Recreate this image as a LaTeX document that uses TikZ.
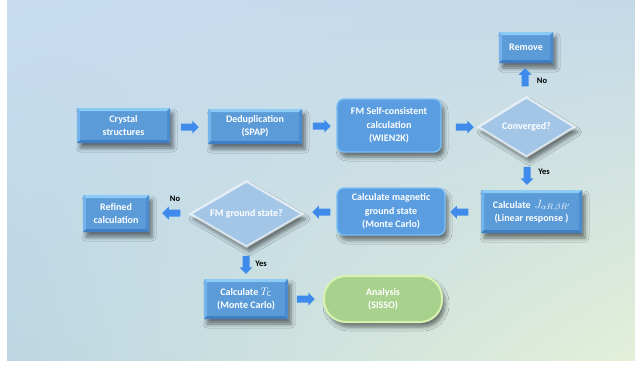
\documentclass[tikz,border=0pt]{standalone}
\usepackage{fontspec}
\setmainfont{Carlito}
\usetikzlibrary{shapes.geometric,shapes.arrows,shadows.blur,shadings,calc}
\definecolor{bgA}{HTML}{C7DCF0}
\definecolor{bgB}{HTML}{C3D9E8}
\definecolor{bgC}{HTML}{BCD7E3}
\definecolor{bgD}{HTML}{E3EFD8}
\definecolor{boxblue}{HTML}{5B9BD8}
\definecolor{bevtop}{HTML}{8DCBF7}
\definecolor{bevleft}{HTML}{74B3EC}
\definecolor{bevbot}{HTML}{3F7EC2}
\definecolor{bevright}{HTML}{4A8CCF}
\definecolor{roundfill}{HTML}{5A9DE0}
\definecolor{roundedge}{HTML}{7CC2F6}
\definecolor{diafill}{HTML}{A3C6E7}
\definecolor{greenfill}{HTML}{A9D18E}
\definecolor{greenedge}{HTML}{D8F3B0}
\definecolor{arrowblue}{HTML}{3F8BEC}
\tikzset{
  shad/.style={blur shadow={shadow xshift=3pt, shadow yshift=-5pt, shadow blur radius=4pt, shadow opacity=50}},
  txt/.style={text=white, font=\bfseries\fontsize{10}{13.3}\selectfont, align=center, inner sep=1pt},
  bevelbox/.style={txt, rectangle, fill=boxblue, shad,
    path picture={
      \fill[bevtop] (path picture bounding box.north west) -- (path picture bounding box.north east)
        -- ([xshift=-3pt,yshift=-3pt]path picture bounding box.north east)
        -- ([xshift=3pt,yshift=-3pt]path picture bounding box.north west) -- cycle;
      \fill[bevleft] (path picture bounding box.north west) -- ([xshift=3pt,yshift=-3pt]path picture bounding box.north west)
        -- ([xshift=3pt,yshift=3pt]path picture bounding box.south west) -- (path picture bounding box.south west) -- cycle;
      \fill[bevbot] (path picture bounding box.south west) -- (path picture bounding box.south east)
        -- ([xshift=-3pt,yshift=3pt]path picture bounding box.south east)
        -- ([xshift=3pt,yshift=3pt]path picture bounding box.south west) -- cycle;
      \fill[bevright] (path picture bounding box.north east) -- ([xshift=-3pt,yshift=-3pt]path picture bounding box.north east)
        -- ([xshift=-3pt,yshift=3pt]path picture bounding box.south east) -- (path picture bounding box.south east) -- cycle;
    }},
  roundbox/.style={txt, rectangle, rounded corners=7pt, fill=roundfill, draw=roundedge, line width=1.3pt, shad},
  decision/.style={txt, diamond, fill=diafill, draw=white, draw opacity=0.65, line width=2.2pt, shad},
  endbox/.style={txt, rectangle, rounded corners=22pt, fill=greenfill, draw=greenedge, line width=2pt, shad},
  blockarrow/.style={single arrow, inner sep=3.3pt, minimum height=18pt,
    single arrow head extend=3pt, shape border rotate=#1, fill=arrowblue, draw=none},
  lab/.style={font=\bfseries\fontsize{8.5}{10}\selectfont, text=black, inner sep=0pt}
}
\begin{document}
\begin{tikzpicture}[x=1pt,y=-1pt]
\useasboundingbox (0,0) rectangle (635,365);
\fill[white] (0,0) rectangle (635,365);
\shade[upper left=bgA, upper right=bgB, lower left=bgC, lower right=bgD] (7,0) rectangle (635,360);

% nodes
\node[bevelbox, minimum width=93pt, minimum height=35pt] (crys) at (123.5,125.5) {Crystal\\structures};
\node[bevelbox, minimum width=94pt, minimum height=35pt] (dedup) at (255,126.5) {Deduplication\\(SPAP)};
\node[roundbox, minimum width=104pt, minimum height=53pt] (fm) at (389,125.5) {FM Self-consistent\\calculation\\(WIEN2K)};
\node[decision, minimum width=97pt, minimum height=60pt, aspect=1.6] (conv) at (526.5,127) {Converged?};
\node[bevelbox, minimum width=54pt, minimum height=31pt] (remove) at (526,47.5) {Remove};
\node[bevelbox, minimum width=101pt, minimum height=43pt] (calcj) at (531.5,211.5) {Calculate \,{\fontsize{11.5}{13.3}\selectfont$J_{\alpha R,\beta R'}$}\\(Linear response )};
\node[roundbox, minimum width=108pt, minimum height=47pt] (mag) at (391,211.5) {Calculate magnetic\\ground state\\(Monte Carlo)};
\node[decision, minimum width=113pt, minimum height=66pt, aspect=1.7] (fmgs) at (246.5,214) {FM ground state?};
\node[bevelbox, minimum width=66pt, minimum height=37pt] (refined) at (116,213.5) {Refined\\calculation};
\node[bevelbox, minimum width=84pt, minimum height=40pt] (tc) at (246,299) {Calculate {\fontsize{11}{13.3}\selectfont$T_{\mathrm{C}}$}\\(Monte Carlo)};
\node[endbox, minimum width=118pt, minimum height=46pt] (ana) at (383,299) {Analysis\\(SISSO)};

% block arrows
\node[blockarrow=0] (a1) at (188,127) {};
\node[blockarrow=0] (a2) at (320,126) {};
\node[blockarrow=0] (a3) at (463,127) {};
\node[blockarrow=90] (a4) at (525,79) {};
\node[blockarrow=270] (a5) at (527,174) {};
\node[blockarrow=180] (a6) at (461,212) {};
\node[blockarrow=180] (a7) at (323,212) {};
\node[blockarrow=180] (a8) at (173,213) {};
\node[blockarrow=270] (a9) at (246,263) {};
\node[blockarrow=0] (a10) at (304,299) {};

% labels
\node[lab] (l1) at (542,81) {No};
\node[lab] (l2) at (544,172) {Yes};
\node[lab] (l3) at (175,199) {No};
\node[lab] (l4) at (261,264) {Yes};
\end{tikzpicture}
\end{document}
